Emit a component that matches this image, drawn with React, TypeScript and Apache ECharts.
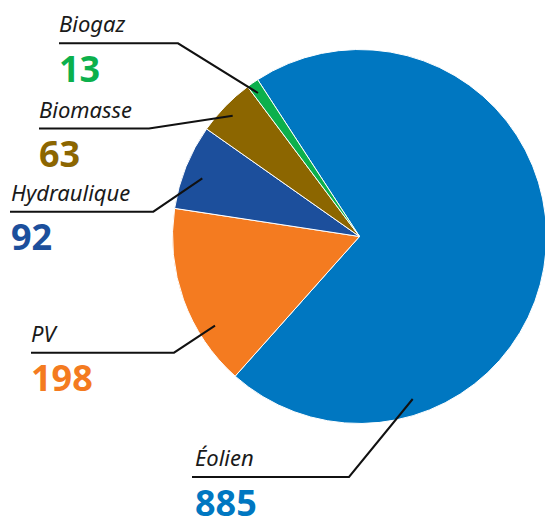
import React, { useEffect, useRef } from "react";
import * as echarts from "echarts";

const categories = ["Éolien", "PV", "Hydraulique", "Biomasse", "Biogaz"];
const values = [885, 198, 92, 63, 13];

const COLORS = ["#0077C1", "#F47B20", "#1C4F9C", "#8C6600", "#0CB04C"];

// label layout: text x, line y, line start x, elbow x, tip point, name/value line heights
const LAYOUT = [
  { tx: 195, ly: 477, lx: 192, ex: 349, tip: [412.7, 399], ln: 60, lv: 30 },
  { tx: 31, ly: 352.7, lx: 31, ex: 174, tip: [215, 325.7], ln: 46, lv: 44 },
  { tx: 11, ly: 211.7, lx: 10, ex: 153.3, tip: [202.3, 178.3], ln: 46, lv: 44 },
  { tx: 39, ly: 128.5, lx: 39, ex: 149, tip: [232.7, 115.7], ln: 46, lv: 44 },
  { tx: 59, ly: 43.3, lx: 59, ex: 178, tip: [258, 93], ln: 46, lv: 44 },
];

export default function App() {
  const ref = useRef<HTMLDivElement>(null);
  useEffect(() => {
    if (!ref.current) return;
    const chart = echarts.init(ref.current, null, { renderer: "svg" });
    const rich: any = {};
    COLORS.forEach((c, i) => {
      rich["n" + i] = {
        fontSize: 22,
        fontStyle: "italic",
        fontFamily: "Noto Sans",
        color: "#1a1a1a",
        lineHeight: LAYOUT[i].ln,
      };
      rich["v" + i] = {
        fontSize: 36,
        fontWeight: "bold",
        fontFamily: "Noto Sans",
        color: c,
        lineHeight: LAYOUT[i].lv,
      };
    });
    const data = categories.map((name, i) => ({
      name,
      value: values[i],
      itemStyle: { color: COLORS[i] },
    }));
    const base = {
      type: "pie",
      center: [359.5, 236.5],
      radius: 187,
      startAngle: 123,
      clockwise: true,
      avoidLabelOverlap: false,
    };
    chart.setOption({
      animation: false,
      series: [
        {
          ...base,
          z: 2,
          itemStyle: { borderColor: "#ffffff", borderWidth: 1 },
          label: { show: false },
          labelLine: { show: false },
          data,
        },
        {
          ...base,
          z: 5,
          silent: true,
          itemStyle: { color: "transparent", borderWidth: 0 },
          label: {
            show: true,
            position: "outside",
            formatter: (p: any) =>
              `{n${p.dataIndex}|${p.name}}\n{v${p.dataIndex}|${p.value}}`,
            rich,
          },
          labelLine: {
            show: true,
            showAbove: true,
            length: 10,
            length2: 10,
            smooth: false,
            lineStyle: { color: "#111111", width: 2 },
          },
          labelLayout: (params: any) => {
            const L = LAYOUT[params.dataIndex];
            return {
              x: L.tx,
              y: L.ly - 20 - L.ln / 2,
              align: "left",
              verticalAlign: "top",
              labelLinePoints: [
                [L.tip[0], L.tip[1]],
                [L.ex, L.ly],
                [L.lx, L.ly],
              ],
            };
          },
          data: categories.map((name, i) => ({
            name,
            value: values[i],
            itemStyle: { color: "transparent" },
          })),
        },
      ],
    });
    return () => chart.dispose();
  }, []);
  return (
    <div
      ref={ref}
      style={{ position: "absolute", left: 0, top: 0, width: 545, height: 517 }}
    />
  );
}
